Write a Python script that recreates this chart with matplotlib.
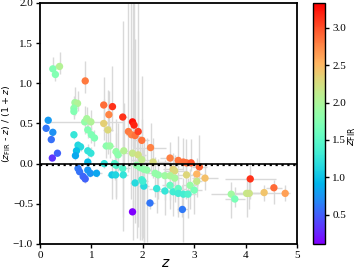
import matplotlib
matplotlib.use("Agg")
import matplotlib.pyplot as plt
import numpy as np

# redshift z, offset (z_FIR - z)/(1+z), and errors
z_vals = [0.25, 0.30, 0.38, 0.88, 0.68, 0.73, 0.66, 0.66, 1.24, 1.41,
          1.34, 1.61, 0.16, 0.87, 0.91, 0.99, 1.24, 1.32, 0.12, 0.25,
          0.22, 0.34, 0.24, 0.93, 1.00, 1.06, 0.66, 0.74, 0.79, 0.71,
          0.69, 0.93, 0.99, 0.93, 1.29, 1.36, 1.48, 1.52, 1.63, 1.25,
          1.45, 0.74, 0.77, 0.84, 0.88, 0.93, 0.98, 1.10, 1.40, 1.47,
          1.48, 1.61, 1.80, 1.83, 1.72, 1.78, 1.85, 1.91, 1.98, 2.15,
          1.80, 1.91, 1.98, 2.20, 2.53, 2.69, 2.79, 2.85, 2.94, 3.10,
          2.59, 2.62, 2.85, 3.05, 3.21, 3.05, 1.88, 1.95, 2.02, 2.08,
          2.24, 2.30, 2.43, 2.53, 2.62, 1.62, 1.85, 1.98, 2.02, 2.00,
          2.27, 2.43, 2.53, 2.59, 2.69, 2.69, 2.79, 2.88, 2.92, 3.00,
          2.14, 2.77, 1.80, 4.09, 4.55, 4.77, 4.36, 4.02, 4.07, 3.72,
          3.79]
dz_vals = [1.18, 1.11, 1.21, 1.03, 0.76, 0.75, 0.69, 0.65, 0.73, 0.71,
           0.61, 0.58, 0.54, 0.52, 0.56, 0.52, 0.50, 0.42, 0.44, 0.39,
           0.30, 0.13, 0.07, 0.42, 0.36, 0.32, 0.36, 0.23, 0.21, 0.16,
           0.10, 0.16, 0.13, 0.02, 0.22, 0.22, 0.15, 0.11, 0.16, 0.00,
           0.00, -0.06, -0.10, -0.16, -0.19, -0.08, -0.12, -0.12, -0.14, -0.14,
           -0.02, -0.06, 0.52, 0.48, 0.40, 0.36, 0.35, 0.40, 0.29, 0.20,
           0.13, 0.11, 0.05, 0.02, 0.07, 0.04, 0.02, 0.01, 0.01, -0.04,
           -0.07, -0.09, -0.14, -0.13, -0.18, -0.22, -0.02, -0.05, -0.07, -0.08,
           -0.12, -0.14, -0.15, -0.15, -0.18, -0.14, -0.24, -0.20, -0.28, -0.22,
           -0.31, -0.34, -0.27, -0.35, -0.31, -0.37, -0.38, -0.38, -0.27, -0.33,
           -0.49, -0.57, -0.60, -0.19, -0.30, -0.37, -0.36, -0.37, -0.37, -0.38,
           -0.44]
z_err = [0.03, 0.03, 0.03, 0.04, 0.03, 0.03, 0.03, 0.03, 0.06, 0.05,
         0.06, 0.08, 0.03, 0.75, 0.03, 0.04, 0.08, 0.10, 0.03, 0.03,
         0.03, 0.03, 0.03, 0.05, 0.05, 0.05, 0.03, 0.03, 0.03, 0.03,
         0.03, 0.04, 0.04, 0.04, 0.08, 0.08, 0.08, 0.08, 0.10, 0.05,
         0.08, 0.03, 0.03, 0.03, 0.03, 0.03, 0.03, 0.10, 0.10, 0.10,
         0.10, 0.15, 0.05, 0.05, 0.10, 0.10, 0.10, 0.08, 0.15, 0.30,
         0.15, 0.15, 0.20, 0.30, 0.20, 0.20, 0.20, 0.20, 0.20, 0.15,
         0.20, 0.20, 0.20, 0.10, 0.25, 0.10, 0.10, 0.10, 0.10, 0.10,
         0.15, 0.15, 0.15, 0.15, 0.15, 0.10, 0.10, 0.10, 0.10, 0.10,
         0.15, 0.15, 0.15, 0.15, 0.15, 0.15, 0.15, 0.15, 0.15, 0.15,
         0.10, 0.10, 0.05, 0.50, 0.15, 0.10, 0.30, 0.30, 0.20, 0.40,
         0.20]
dz_err_lo = [0.08, 0.08, 0.10, 0.15, 0.15, 0.10, 0.10, 0.10, 0.25, 0.30,
             0.20, 0.40, 0.03, 0.15, 0.10, 0.10, 0.20, 0.30, 0.03, 0.03,
             0.03, 0.03, 0.03, 0.10, 0.10, 0.10, 0.05, 0.05, 0.05, 0.05,
             0.05, 0.05, 0.05, 0.05, 0.15, 0.15, 0.20, 0.20, 0.30, 0.05,
             0.20, 0.05, 0.05, 0.05, 0.05, 0.05, 0.05, 0.05, 0.30, 0.30,
             0.40, 0.60, 0.30, 0.30, 0.50, 0.80, 0.60, 0.40, 0.50, 0.30,
             0.80, 0.90, 1.00, 0.20, 0.10, 0.10, 0.10, 0.10, 0.10, 0.15,
             0.30, 0.30, 0.30, 0.20, 0.15, 0.20, 0.90, 0.90, 0.90, 0.90,
             0.30, 0.30, 0.30, 0.30, 0.30, 0.70, 0.50, 0.70, 0.70, 0.70,
             0.30, 0.30, 0.30, 0.30, 0.30, 0.30, 0.60, 0.30, 0.30, 0.30,
             0.08, 0.10, 0.35, 0.25, 0.20, 0.10, 0.10, 0.30, 0.20, 0.30,
             0.10]
dz_err_hi = [0.15, 0.12, 0.18, 0.25, 0.20, 0.15, 0.15, 0.15, 0.35, 0.50,
             0.30, 1.20, 0.03, 0.20, 0.15, 0.15, 0.30, 0.50, 0.03, 0.03,
             0.03, 0.03, 0.03, 0.10, 0.10, 0.10, 0.05, 0.05, 0.05, 0.05,
             0.05, 0.08, 0.08, 0.08, 0.25, 0.25, 0.40, 0.40, 0.60, 0.05,
             0.20, 0.05, 0.05, 0.05, 0.05, 0.05, 0.05, 0.05, 0.20, 0.20,
             0.40, 0.60, 1.48, 1.52, 1.60, 1.64, 1.20, 1.60, 0.80, 0.30,
             1.30, 0.80, 0.50, 0.30, 0.20, 0.30, 0.30, 0.30, 0.30, 0.40,
             0.20, 0.20, 0.20, 0.20, 0.15, 0.20, 0.40, 0.40, 0.40, 0.40,
             0.20, 0.20, 0.20, 0.20, 0.20, 0.30, 0.30, 0.40, 0.40, 0.40,
             0.20, 0.20, 0.20, 0.20, 0.20, 0.20, 0.20, 0.20, 0.20, 0.20,
             0.05, 0.30, 0.15, 0.20, 0.10, 0.10, 0.10, 0.20, 0.20, 0.15,
             0.15]

z = np.array(z_vals)
dz = np.array(dz_vals)
z_fir = z + dz * (1 + z)

fig = plt.figure(figsize=(3.57, 2.72), dpi=100)
ax = fig.add_axes([0.112, 0.103, 0.72, 0.886])
cax = fig.add_axes([0.877, 0.103, 0.034, 0.886])

ax.errorbar(z, dz, xerr=z_err, yerr=[dz_err_lo, dz_err_hi], fmt='none',
            ecolor='#d9d9d9', elinewidth=1, capsize=0, zorder=1)
sc = ax.scatter(z, dz, c=z_fir, cmap='rainbow', vmin=0.11, vmax=3.33,
                s=28, edgecolors='none', zorder=3)
ax.axhline(0, color='k', lw=1.2, zorder=4)
ax.axhline(-0.013, color='k', lw=1.6, ls=':', zorder=4)

ax.set_xlim(0, 5)
ax.set_ylim(-1, 2)
ax.set_xticks([0, 1, 2, 3, 4, 5])
ax.set_yticks([-1.0, -0.5, 0.0, 0.5, 1.0, 1.5, 2.0])
ax.set_yticklabels(['\u22121.0', '\u22120.5', '0.0', '0.5', '1.0', '1.5', '2.0'])
for lab in ax.get_xticklabels() + ax.get_yticklabels():
    lab.set_fontfamily('Liberation Serif')
    lab.set_fontsize(8)
ax.tick_params(length=3, width=1, pad=2)
for sp in ax.spines.values():
    sp.set_linewidth(1.3)

ax.set_xlabel(r'$z$', fontsize=10)
ax.xaxis.set_label_coords(0.49, -0.048)
ax.set_ylabel(r'$(z_{\rm FIR}$ - $z)$ / $(1 + z)$', fontsize=6.8)
ax.yaxis.set_label_coords(-0.105, 0.5)

cb = fig.colorbar(sc, cax=cax)
cb.set_ticks([0.5, 1.0, 1.5, 2.0, 2.5, 3.0])
for lab in cax.get_yticklabels():
    lab.set_fontfamily('Liberation Serif')
    lab.set_fontsize(8)
cax.tick_params(length=3, width=1, pad=2)
cb.outline.set_linewidth(1.0)
cax.text(0.985, 0.5, r'$z_{\rm FIR}$', fontsize=8, rotation=90,
         ha='center', va='center', transform=fig.transFigure)

fig.savefig('out.png', dpi=100)
